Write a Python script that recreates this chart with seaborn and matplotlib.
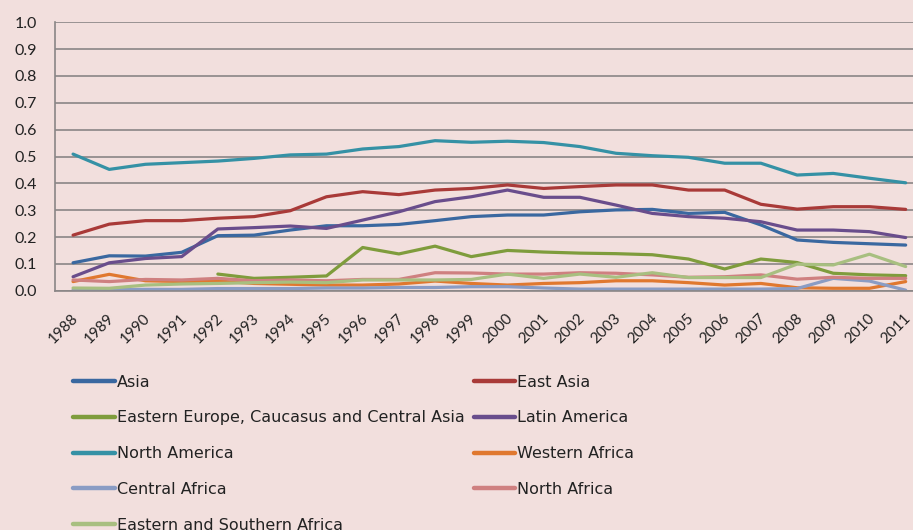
import numpy as np
import pandas as pd
import matplotlib
matplotlib.use("Agg")
import matplotlib.pyplot as plt
import matplotlib.transforms as mtransforms
from matplotlib.lines import Line2D
import seaborn as sns

# values
years = [str(y) for y in range(1988, 2012)]
regions = ["Asia", "East Asia", "Eastern Europe, Caucasus and Central Asia",
           "Latin America", "North America", "Western Africa",
           "Central Africa", "North Africa", "Eastern and Southern Africa"]

asia = [0.104, 0.130, 0.129, 0.143, 0.205, 0.207, 0.226, 0.242, 0.242, 0.247, 0.261, 0.276,
        0.282, 0.282, 0.294, 0.301, 0.303, 0.288, 0.292, 0.245, 0.189, 0.180, 0.175, 0.170]
east_asia = [0.207, 0.248, 0.261, 0.261, 0.270, 0.276, 0.298, 0.350, 0.369, 0.358, 0.375, 0.381,
             0.394, 0.381, 0.388, 0.394, 0.394, 0.375, 0.375, 0.322, 0.304, 0.313, 0.313, 0.303]
eastern_europe = [np.nan, np.nan, np.nan, np.nan, 0.062, 0.046, 0.050, 0.055, 0.161, 0.137, 0.166, 0.127,
                  0.150, 0.144, 0.140, 0.138, 0.134, 0.118, 0.081, 0.118, 0.105, 0.065, 0.059, 0.056]
latin_america = [0.052, 0.104, 0.120, 0.127, 0.230, 0.235, 0.241, 0.232, 0.263, 0.294, 0.332, 0.350,
                 0.375, 0.348, 0.348, 0.319, 0.288, 0.276, 0.270, 0.257, 0.226, 0.226, 0.220, 0.198]
north_america = [0.509, 0.452, 0.471, 0.477, 0.483, 0.493, 0.506, 0.509, 0.528, 0.537, 0.559, 0.553,
                 0.557, 0.552, 0.537, 0.512, 0.503, 0.497, 0.475, 0.475, 0.431, 0.437, 0.419, 0.402]
western_africa = [0.034, 0.061, 0.037, 0.034, 0.036, 0.027, 0.024, 0.021, 0.021, 0.025, 0.036, 0.027,
                  0.021, 0.027, 0.030, 0.037, 0.037, 0.030, 0.021, 0.027, 0.011, 0.009, 0.009, 0.034]
central_africa = [0.003, 0.004, 0.005, 0.005, 0.008, 0.008, 0.008, 0.010, 0.010, 0.012, 0.012, 0.015,
                  0.015, 0.010, 0.006, 0.006, 0.006, 0.006, 0.006, 0.006, 0.008, 0.046, 0.036, 0.002]
north_africa = [0.040, 0.034, 0.042, 0.040, 0.046, 0.037, 0.040, 0.037, 0.042, 0.042, 0.067, 0.066,
                0.062, 0.062, 0.067, 0.065, 0.059, 0.050, 0.052, 0.059, 0.043, 0.050, 0.046, 0.046]
es_africa = [0.010, 0.009, 0.021, 0.025, 0.027, 0.030, 0.032, 0.030, 0.040, 0.040, 0.040, 0.042,
             0.062, 0.046, 0.062, 0.050, 0.067, 0.049, 0.049, 0.049, 0.099, 0.096, 0.136, 0.090]

colors = ["#3a68a0", "#a93a38", "#7f9c3c", "#694d8c", "#3591a5",
          "#e0782f", "#8a9cc4", "#cf8080", "#a8bf80"]

series = [asia, east_asia, eastern_europe, latin_america, north_america,
          western_africa, central_africa, north_africa, es_africa]

# long-form table for seaborn
df = pd.DataFrame({
    "pos": np.tile(np.arange(len(years)), len(regions)),
    "value": np.concatenate(series),
    "region": np.repeat(regions, len(years)),
})
palette = dict(zip(regions, colors))

bg = "#f2dfdd"
grid = "#8a8686"
sns.set_style("white")
plt.rcParams["font.family"] = ["Lato", "DejaVu Sans"]

fig = plt.figure(figsize=(9.13, 5.30), dpi=100, facecolor=bg)
# the chart is cropped on the right in the reference, so the axes run past the edge
ax = fig.add_axes([0.0602, 0.4515, 0.9516, 0.5064])
ax.set_facecolor(bg)

for reg in regions:
    sub = df[df["region"] == reg].dropna()
    sns.lineplot(data=sub, x="pos", y="value", color=palette[reg], linewidth=2.3,
                 ax=ax, legend=False, sort=False)

ax.set_xlim(-0.5, len(years) - 0.5)
ax.set_ylim(0, 1.0)
ax.set_yticks(np.arange(0, 1.01, 0.1))
ax.set_yticklabels([f"{v:.1f}" for v in np.arange(0, 1.01, 0.1)])
ax.yaxis.grid(True, color=grid, linewidth=1.2)
ax.set_axisbelow(True)
ax.set_xlabel("")
ax.set_ylabel("")

# year labels sit between the boundary ticks, like an Excel category axis
ax.set_xticks(np.arange(len(years)))
ax.set_xticklabels(years, rotation=45, ha="right", va="center", rotation_mode="anchor")
ax.set_xticks(np.arange(-0.5, len(years), 1), minor=True)
ax.tick_params(axis="x", which="major", length=0, pad=18.5, labelsize=11, labelcolor="#222222")
ax.tick_params(axis="x", which="minor", length=4.5, width=1.2, color=grid)
ax.tick_params(axis="y", length=5, width=1.2, color=grid, pad=8, labelsize=11.5, labelcolor="#222222")
offset = mtransforms.ScaledTranslation(3 / 100, 0, fig.dpi_scale_trans)
for lbl in ax.get_xticklabels():
    lbl.set_transform(lbl.get_transform() + offset)

for side in ["top", "right"]:
    ax.spines[side].set_visible(False)
for side in ["left", "bottom"]:
    ax.spines[side].set_color(grid)
    ax.spines[side].set_linewidth(1.2)

# legend in two hand-placed columns (row order as in the reference)
handles = [Line2D([], [], color=palette[r], linewidth=3.2) for r in regions]
col1 = [0, 2, 4, 6, 8]
col2 = [1, 3, 5, 7]
for idx, xpos in [(col1, 0.0805), (col2, 0.519)]:
    fig.legend([handles[i] for i in idx], [regions[i] for i in idx],
               loc="upper left", bbox_to_anchor=(xpos, 0.293), frameon=False,
               borderpad=0, borderaxespad=0, handlelength=2.57, handletextpad=0.15,
               labelspacing=1.30, labelcolor="#222222",
               prop={"family": ["DejaVu Sans"], "size": 11.5})

fig.savefig("out.png", dpi=100, facecolor=bg)
